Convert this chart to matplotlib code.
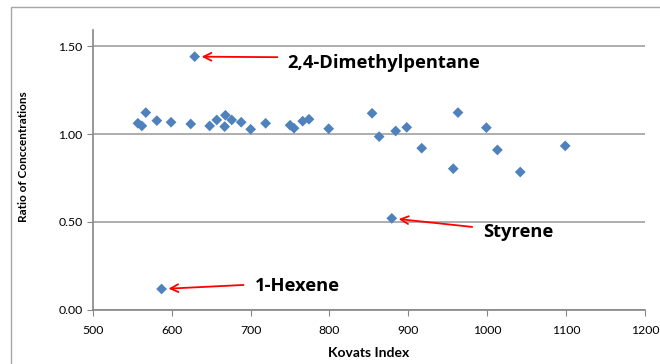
import matplotlib
matplotlib.use('Agg')
import matplotlib.pyplot as plt
from matplotlib.patches import Rectangle

#----------------------------------------------------------------------------

# Kovats index and ratio of concentrations
kovats = [557, 562, 567, 581, 599, 624, 648, 657, 667, 668, 676, 688, 700,
          719, 750, 755, 766, 774, 799, 854, 863, 884, 898, 917, 957, 963,
          999, 1013, 1042, 1099, 629, 879, 587]
ratio = [1.062, 1.047, 1.123, 1.077, 1.068, 1.058, 1.047, 1.081, 1.043, 1.108,
         1.081, 1.068, 1.028, 1.062, 1.051, 1.034, 1.074, 1.085, 1.031, 1.119,
         0.986, 1.018, 1.039, 0.920, 0.803, 1.123, 1.037, 0.910, 0.784, 0.933,
         1.442, 0.520, 0.117]

# labelled outliers: name, point, arrow tail, text anchor
labels = ['2,4-Dimethylpentane', 'Styrene', '1-Hexene']
label_pts = [(629, 1.442), (879, 0.520), (587, 0.117)]
label_tails = [(734, 1.439), (981, 0.471), (691, 0.140)]
label_text = [(746, 1.406), (995, 0.442), (705, 0.134)]

xticks = [500, 600, 700, 800, 900, 1000, 1100, 1200]
yticks = [0.0, 0.5, 1.0, 1.5]

#----------------------------------------------------------------------------

plt.rcParams['font.family'] = ['Lato', 'DejaVu Sans']

fig = plt.figure(figsize=(6.6, 3.64), dpi=100)
ax = fig.add_axes([0.1409, 0.1497, 0.977 - 0.1409, 0.9176 - 0.1497])

# outer chart frame
fig.patches.append(Rectangle((11 / 660, -0.1), 1.0, 1.1 - 7 / 364,
                             transform=fig.transFigure, fill=False,
                             edgecolor='#a6a6a6', lw=1.0, clip_on=False))

ax.scatter(kovats, ratio, marker='D', s=30, color='#4F81BD',
           edgecolors='none', zorder=3)

for name, pt, tail, pos in zip(labels, label_pts, label_tails, label_text):
    ax.annotate('', xy=pt, xytext=tail,
                arrowprops=dict(arrowstyle='->', color='red', lw=1.3,
                                shrinkA=0, shrinkB=5, mutation_scale=14),
                zorder=4)
    ax.text(pos[0], pos[1], name, fontsize=13.2, fontweight='bold',
            family=['Open Sans', 'DejaVu Sans'],
            ha='left', va='center', color='black')

ax.set_xlim(500, 1200)
ax.set_ylim(0, 1.594)
ax.set_xticks(xticks)
ax.set_yticks(yticks)
ax.set_yticklabels(['%.2f' % v for v in yticks])
ax.yaxis.grid(True, color='#a0a0a0', lw=1.2)
ax.set_axisbelow(True)

for s in ['top', 'right']:
    ax.spines[s].set_visible(False)
for s in ['left', 'bottom']:
    ax.spines[s].set_color('#868686')
    ax.spines[s].set_linewidth(1.2)
ax.tick_params(axis='both', colors='#868686', length=4, labelsize=8.8,
               labelcolor='black')
ax.tick_params(axis='x', pad=7)

ax.set_xlabel('Kovats Index', fontsize=10, fontweight='bold', labelpad=8)
ax.set_ylabel('Ratio of Conccentrations', fontsize=8.5, fontweight='bold')
ax.yaxis.set_label_coords(-0.116, 0.546)

fig.savefig('out.png', dpi=100)
